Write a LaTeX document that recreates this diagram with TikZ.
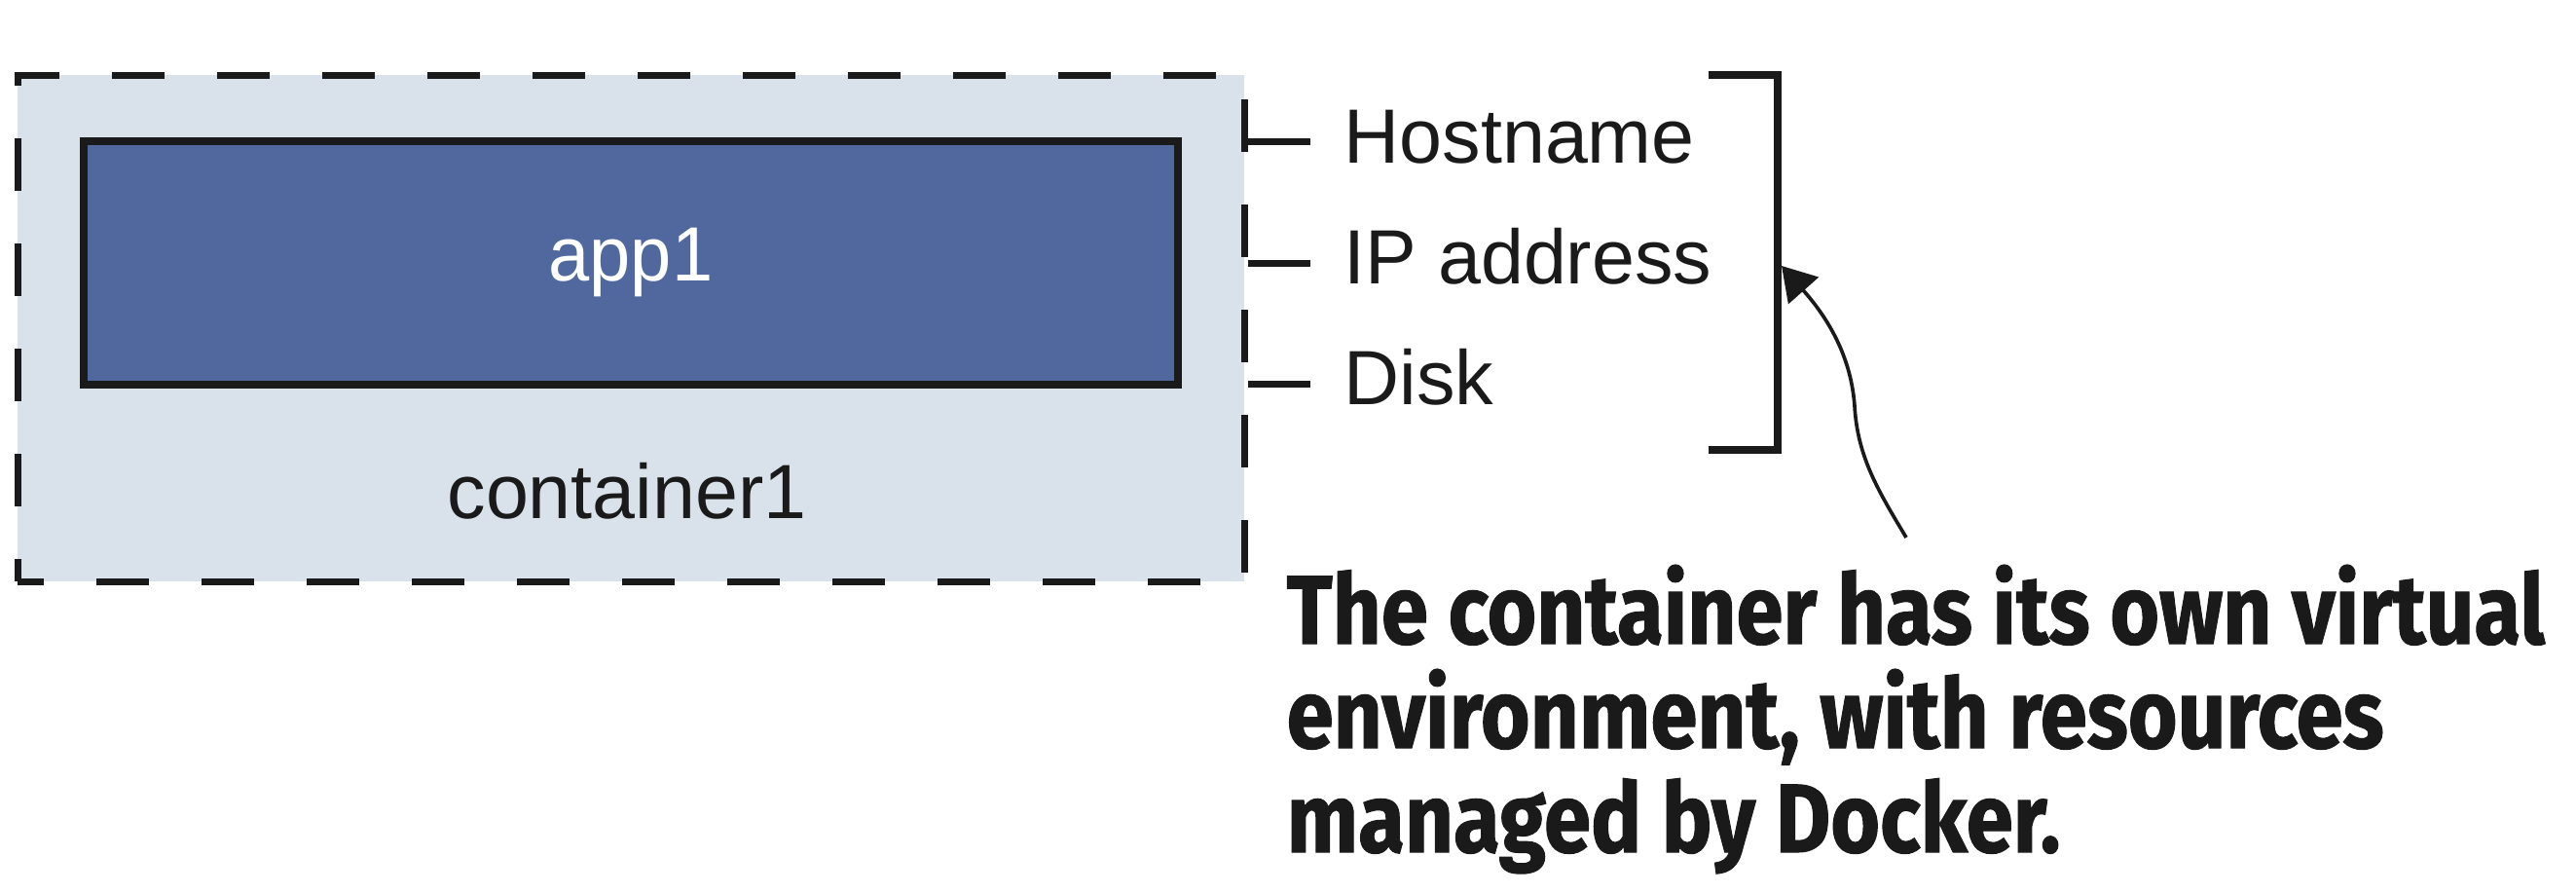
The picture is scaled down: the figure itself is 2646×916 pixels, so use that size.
\documentclass[tikz,border=0pt]{standalone}
\usepackage{fontspec}
\setmainfont{Liberation Sans}
\newfontfamily\appfont{Liberation Sans}[FakeStretch=0.96]
\newfontfamily\capfont{Fira Sans}[FakeStretch=0.87, FakeBold=1]
\usetikzlibrary{arrows.meta}
\definecolor{contfill}{RGB}{217,225,234}
\definecolor{appfill}{RGB}{80,104,158}
\definecolor{ink}{RGB}{26,26,26}
\tikzset{
  contbox/.style={draw=ink, fill=contfill, line width=2.1pt,
    dash pattern=on 16.2pt off 16.2pt, dash phase=8pt, inner sep=0pt,
    minimum width=378pt, minimum height=156pt},
  appbox/.style={draw=ink, fill=appfill, line width=2.2pt, inner sep=0pt,
    minimum width=337.2pt, minimum height=75pt, text=white,
    font=\appfont\fontsize{23.7pt}{28pt}\selectfont},
  lbl/.style={inner sep=0pt, text=ink, font=\fontsize{23.7pt}{28pt}\selectfont},
  tickline/.style={draw=ink, line width=2.1pt},
  brack/.style={draw=ink, line width=2.3pt},
  captxt/.style={inner sep=0pt, text=ink, anchor=base west,
    font=\capfont\bfseries\fontsize{30pt}{32pt}\selectfont},
  arr/.style={draw=ink, line width=1.1pt,
    -{Triangle[length=10.2pt, width=12.3pt]}}
}
\begin{document}
\begin{tikzpicture}[x=0.3pt, y=-0.3pt]
\useasboundingbox (0,0) rectangle (2646,916);
% container and app
\node[contbox] (cont) at (648,337) {};
\node[appbox] (app) at (648,270) {app1};
\node[lbl, anchor=base] (contlbl) at (644,532) {container1};
% resource labels
\node[lbl, anchor=base west] (host) at (1380,167) {Hostname};
\node[lbl, anchor=base west] (ip) at (1380,291) {IP address};
\node[lbl, anchor=base west] (disk) at (1380,415) {Disk};
% ticks
\coordinate (t1) at (1346,145);
\coordinate (t2) at (1346,270);
\coordinate (t3) at (1346,394);
\draw[tickline] (t1 -| cont.east) -- (t1);
\draw[tickline] (t2 -| cont.east) -- (t2);
\draw[tickline] (t3 -| cont.east) -- (t3);
% bracket
\coordinate (bt) at (1755,77);
\coordinate (bb) at (1755,462);
\coordinate (bx) at (1826,0);
\draw[brack] (bt) -- (bt -| bx) -- (bb -| bx) -- (bb);
% caption
\node[captxt] (cap1) at (1321,661) {The container has its own virtual};
\node[captxt] (cap2) at (1321,768) {environment, with resources};
\node[captxt] (cap3) at (1321,875) {managed by Docker.};
% arrow
\coordinate (tail) at (1958,552);
\coordinate (mid) at (1905,417);
\coordinate (tip) at (1830,273);
\draw[arr] (tail) .. controls (1930,505) and (1908,470) .. (mid)
  .. controls (1902,375) and (1885,335) .. (tip);
\end{tikzpicture}
\end{document}
